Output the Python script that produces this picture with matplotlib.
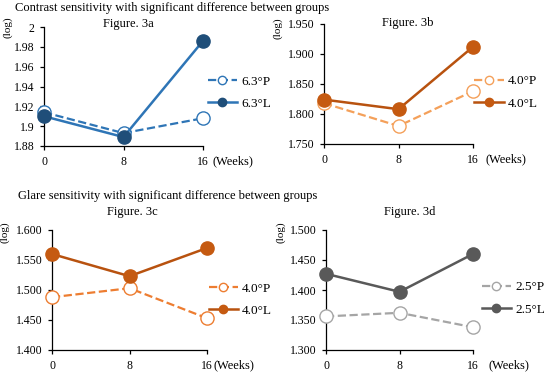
import matplotlib
matplotlib.use("Agg")
import matplotlib.pyplot as plt
from matplotlib.lines import Line2D

plt.rcParams['font.family'] = ['Liberation Serif', 'DejaVu Serif']
plt.rcParams['font.size'] = 8.5

W, H = 550, 374

weeks = [0, 8, 16]

# Figure 3a - contrast 6.3 deg
a_p = [1.914, 1.893, 1.908]
a_l = [1.910, 1.889, 1.986]
a_ticks = [1.88, 1.90, 1.92, 1.94, 1.96, 1.98, 2.00]
a_labels = ['1.88', '1.9', '1.92', '1.94', '1.96', '1.98', '2']

# Figure 3b - contrast 4.0 deg
b_p = [1.818, 1.780, 1.838]
b_l = [1.824, 1.808, 1.912]
b_ticks = [1.750, 1.800, 1.850, 1.900, 1.950]

# Figure 3c - glare 4.0 deg
c_p = [1.488, 1.503, 1.453]
c_l = [1.560, 1.523, 1.570]
c_ticks = [1.400, 1.450, 1.500, 1.550, 1.600]

# Figure 3d - glare 2.5 deg
d_p = [1.356, 1.362, 1.338]
d_l = [1.427, 1.397, 1.460]
d_ticks = [1.300, 1.350, 1.400, 1.450, 1.500]


def px(x, y):
    return x / W, 1 - y / H


def panel(box, title, title_xy, log_xy, p, l, ticks, labels, names,
          cp, cl, cm, leg_x, leg_y, wk_off):
    x0, y0, x1, y1 = box
    ax = fig.add_axes([x0 / W, 1 - y1 / H, (x1 - x0) / W, (y1 - y0) / H])
    ax.plot(weeks, p, '--o', color=cp, lw=1.6, ms=9.5, mfc='white', mec=cp,
            mew=1.0, clip_on=False, zorder=3)
    ax.plot(weeks, l, '-o', color=cl, lw=1.8, ms=9.5, mfc=cm, mec=cm,
            clip_on=False, zorder=4)
    ax.set_xlim(0, 16)
    ax.set_ylim(ticks[0], ticks[-1])
    ax.set_xticks(weeks)
    ax.set_yticks(ticks)
    ax.set_yticklabels(labels)
    for s in ['top', 'right']:
        ax.spines[s].set_visible(False)
    for s in ['left', 'bottom']:
        ax.spines[s].set_color('black')
        ax.spines[s].set_linewidth(0.9)
    ax.tick_params(length=3, width=0.9, direction='out', pad=4, labelsize=8.5)
    ax.annotate('(Weeks)', xy=(16, ticks[0]), xytext=(wk_off, -7),
                textcoords='offset points', ha='left', va='top', fontsize=9)
    fig.text(*px(*title_xy), title, ha='center', va='center', fontsize=9)
    fig.text(*px(*log_xy), '(log)', rotation=90, ha='center', va='center',
             fontsize=8)
    hp = Line2D([], [], ls='--', marker='o', color=cp, lw=1.6, ms=6,
                mfc='white', mec=cp)
    hl = Line2D([], [], ls='-', marker='o', color=cl, lw=1.8, ms=6,
                mfc=cm, mec=cm)
    ax.legend([hp, hl], names, loc='center left',
              bbox_to_anchor=(1 + leg_x, leg_y),
              frameon=False, handlelength=2.2, labelspacing=0.75,
              handletextpad=0.35, borderaxespad=0, borderpad=0, fontsize=9.5)
    return ax


fig = plt.figure(figsize=(5.5, 3.74), dpi=100)

panel((44, 27, 203, 146), 'Figure. 3a', (128, 24), (8, 27), a_p, a_l,
      a_ticks, a_labels, ['6.3°P', '6.3°L'],
      '#2e75b6', '#2e75b6', '#1f4e79', 0.03, 0.45, 7)
panel((324, 24, 473, 144), 'Figure. 3b', (408, 23), (278, 28), b_p, b_l,
      b_ticks, ['%.3f' % t for t in b_ticks], ['4.0°P', '4.0°L'],
      '#f4a05a', '#b8520f', '#c55a11', 0.01, 0.43, 9)
panel((52, 230, 207, 350), 'Figure. 3c', (132, 212), (5, 232), c_p, c_l,
      c_ticks, ['%.3f' % t for t in c_ticks], ['4.0°P', '4.0°L'],
      '#ed7d31', '#b8520f', '#c55a11', 0.01, 0.42, 5)
panel((326, 230, 473, 350), 'Figure. 3d', (410, 212), (281, 232), d_p, d_l,
      d_ticks, ['%.3f' % t for t in d_ticks], ['2.5°P', '2.5°L'],
      '#a5a5a5', '#595959', '#595959', 0.06, 0.43, 11)

fig.text(*px(15, 8), 'Contrast sensitivity with significant difference between groups',
         ha='left', va='center', fontsize=9)
fig.text(*px(18, 196), 'Glare sensitivity with significant difference between groups',
         ha='left', va='center', fontsize=9)

fig.savefig('out.png', dpi=100)
